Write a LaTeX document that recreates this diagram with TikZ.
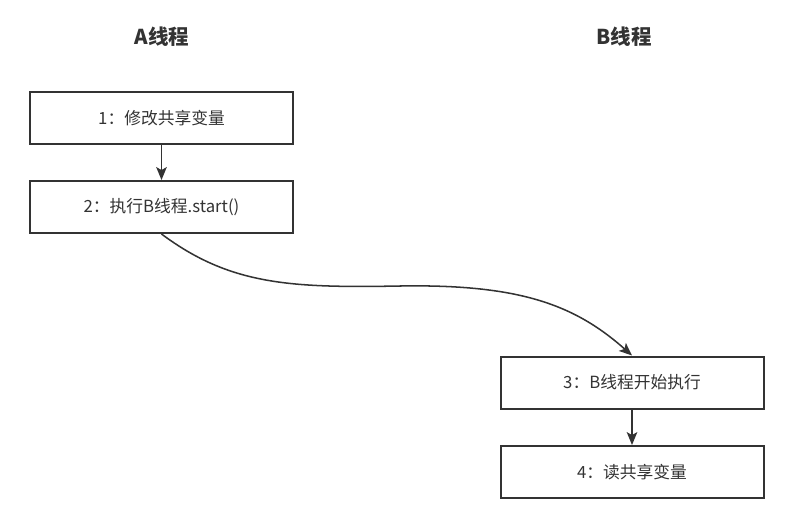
\documentclass[tikz,border=0pt]{standalone}
\usepackage{fontspec}
\setmainfont{Noto Sans CJK SC}
\usetikzlibrary{arrows.meta}

\definecolor{linegray}{HTML}{333333}

\tikzset{
  stepbox/.style={draw=linegray, line width=1.7pt, minimum width=7.89cm,
    minimum height=1.56cm, inner sep=0pt, text=linegray,
    font=\fontsize{14.3}{16}\selectfont},
  title/.style={text=linegray, font=\fontsize{17.5}{20}\selectfont\bfseries},
  flow/.style={draw=linegray, line width=1.3pt,
    -{Stealth[length=11pt,width=9pt,inset=2.5pt]}}
}

\begin{document}
\begin{tikzpicture}[x=0.03cm, y=-0.03cm]
        \useasboundingbox (0,0) rectangle (797,526);

        % thread headings
        \node[title] (ta) at (162,37) {A线程};
        \node[title] (tb) at (624,37) {B线程};

        % thread A
        \node[stepbox] (a1) at (161.5,118) {1：修改共享变量};
        \node[stepbox] (a2) at (161.5,207) {2：执行B线程.start()};

        % thread B
        \node[stepbox] (b3) at (632,382.5) {3：B线程开始执行};
        \node[stepbox] (b4) at (632,472) {4：读共享变量};

        % arrows
        \draw[flow] (a1) -- (a2);
        \draw[flow] (b3) -- (b4);
        \draw[flow] (a2.south) .. controls (230,285) and (290,288) .. (400,286)
                    .. controls (520,284) and (575,305) .. (b3.north);
    \end{tikzpicture}
\end{document}
